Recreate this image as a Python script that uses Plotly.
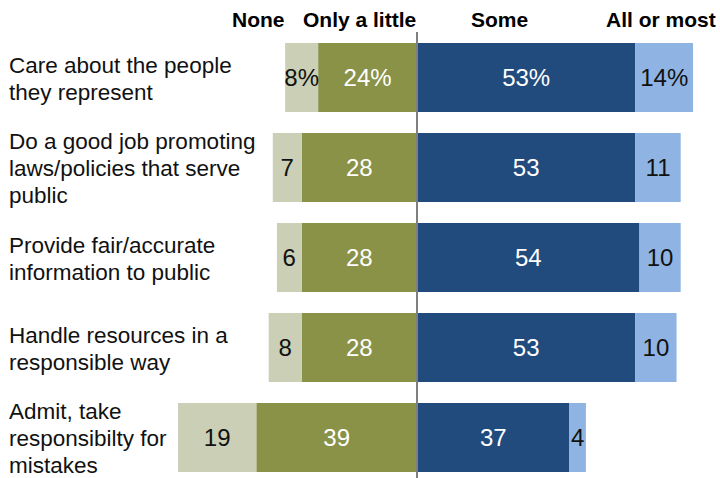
import plotly.graph_objects as go

# Share of respondents (%) by how many officials they think do each thing
categories = [
    "Care about the people<br>they represent",
    "Do a good job promoting<br>laws/policies that serve<br>public",
    "Provide fair/accurate<br>information to public",
    "Handle resources in a<br>responsible way",
    "Admit, take<br>responsibilty for<br>mistakes",
]
none_vals = [8, 7, 6, 8, 19]
little_vals = [24, 28, 28, 28, 39]
some_vals = [53, 53, 54, 53, 37]
most_vals = [14, 11, 10, 10, 4]

series_names = ["None", "Only a little", "Some", "All or most"]
colors = {
    "None": "#cacfb6",
    "Only a little": "#8a9248",
    "Some": "#214a7d",
    "All or most": "#8fb4e3",
}
text_colors = {
    "None": "#111111",
    "Only a little": "#ffffff",
    "Some": "#ffffff",
    "All or most": "#111111",
}

rows = list(range(len(categories)))


def labels(vals):
    return [f"{v}%" if i == 0 else str(v) for i, v in enumerate(vals)]


body_font = "Liberation Sans, Arial, sans-serif"
head_font = "Liberation Sans Narrow, Arial Narrow, Liberation Sans, sans-serif"

fig = go.Figure()

# negative side: nearest-to-zero segment first so it stacks against the centre line
for name, vals, sign in [
    ("Only a little", little_vals, -1),
    ("None", none_vals, -1),
    ("Some", some_vals, 1),
    ("All or most", most_vals, 1),
]:
    fig.add_trace(
        go.Bar(
            y=rows,
            x=[sign * v for v in vals],
            orientation="h",
            name=name,
            width=0.767,
            marker=dict(color=colors[name], line=dict(width=0)),
            text=labels(vals),
            textposition="inside",
            insidetextanchor="middle",
            textangle=0,
            textfont=dict(family=body_font, size=24, color=text_colors[name]),
            hoverinfo="skip",
        )
    )

annotations = []
line_gap = 27
for i, cat in enumerate(categories):
    lines = cat.split("<br>")
    n = len(lines)
    for k, line in enumerate(lines):
        annotations.append(
            dict(
                x=7 / 720,
                xref="paper",
                y=i,
                yref="y",
                yshift=-((k - (n - 1) / 2) * line_gap) - 1,
                text=line,
                showarrow=False,
                xanchor="left",
                yanchor="middle",
                align="left",
                font=dict(family=body_font, size=22.5, color="#111111"),
            )
        )

# column headers above the bars (pixel positions across the figure width)
header_pos = {"None": 258, "Only a little": 359, "Some": 499, "All or most": 661}
for name in series_names:
    annotations.append(
        dict(
            x=header_pos[name] / 720,
            xref="paper",
            y=1 + (32 - 20) / 446,
            yref="paper",
            text=f"<b>{name}</b>",
            showarrow=False,
            xanchor="center",
            yanchor="middle",
            font=dict(family=head_font, size=21, color="#000000"),
        )
    )

px_per_pct = 4.12
center_px = 417
fig.update_layout(
    width=720,
    height=478,
    margin=dict(l=0, r=0, t=32, b=0),
    paper_bgcolor="white",
    plot_bgcolor="white",
    barmode="relative",
    showlegend=False,
    uniformtext=dict(minsize=24, mode="show"),
    xaxis=dict(
        range=[-center_px / px_per_pct, (720 - center_px) / px_per_pct],
        visible=False,
        fixedrange=True,
    ),
    yaxis=dict(
        range=[4.45, -0.506],
        visible=False,
        fixedrange=True,
    ),
    annotations=annotations,
    shapes=[
        dict(
            type="line",
            xref="x",
            yref="paper",
            x0=0,
            x1=0,
            y0=0,
            y1=1,
            line=dict(color="#7f7f7f", width=2),
            layer="above",
        )
    ],
)

fig.write_html("out.html")
